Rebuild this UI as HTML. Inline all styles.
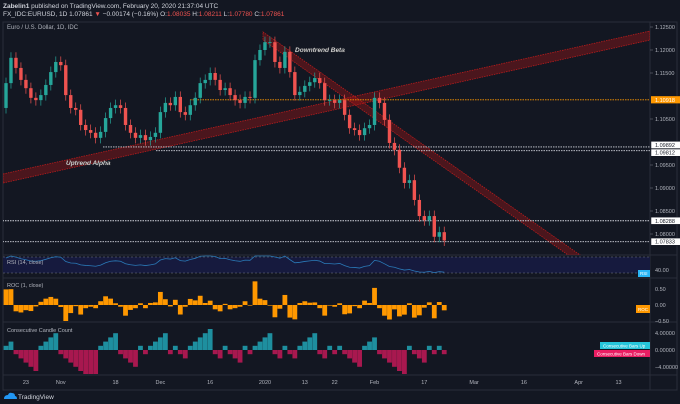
<!DOCTYPE html>
<html><head><meta charset="utf-8"><style>
html,body{margin:0;padding:0;background:#131722;width:680px;height:404px;overflow:hidden;font-family:"Liberation Sans",sans-serif}
svg{display:block}
</style></head><body>
<svg id="c" width="680" height="404" xmlns="http://www.w3.org/2000/svg"></svg>
<script>
// ---- data ----
const firstOpen = 1.1074;
const closes = [1.1128,1.1183,1.1161,1.1135,1.1117,1.1096,1.1091,1.1102,1.1124,1.1152,1.1174,1.1167,1.1102,1.1074,1.1070,1.1037,1.1026,1.1020,1.1009,1.1022,1.1052,1.1074,1.1080,1.1074,1.1037,1.1020,1.1009,1.1015,1.1004,1.1011,1.1020,1.1065,1.1085,1.1080,1.1098,1.1065,1.1059,1.1080,1.1096,1.1128,1.1135,1.1150,1.1135,1.1113,1.1117,1.1102,1.1091,1.1085,1.1098,1.1096,1.1178,1.1200,1.1217,1.1217,1.1174,1.1161,1.1196,1.1152,1.1102,1.1109,1.1122,1.1130,1.1139,1.1128,1.1091,1.1091,1.1085,1.1091,1.1059,1.1030,1.1026,1.1015,1.1030,1.1037,1.1096,1.1085,1.1048,1.0998,1.0983,1.0944,1.0911,1.0917,1.0874,1.0839,1.0830,1.0839,1.0794,1.0804,1.0786];
const priceTicks = [1.125,1.12,1.115,1.105,1.095,1.09,1.085,1.08];
const levels = [1.10918,1.09892,1.09812,1.08288,1.07833];
const levelStart = [190,103,156,0,0];
const timeLabels = ["23","Nov","18","Dec","16","2020","13","22","Feb","17","Mar","16","Apr","13"];
const timeIdx = [4,11,22,31,41,52,60,66,74,84,94,104,115,123];

const NS="http://www.w3.org/2000/svg";
const svg=document.getElementById('c');
function el(t,a,p){const e=document.createElementNS(NS,t);for(const k in a)e.setAttribute(k,a[k]);(p||svg).appendChild(e);return e;}
function txt(x,y,s,a,p){const e=el('text',Object.assign({x:x,y:y,'font-size':6,fill:'#b2b5be'},a),p);e.textContent=s;return e;}
const X=i=>6+4.98*i;
const Y=p=>27+(1.125-p)*4600;
const GREEN='#26a69a',RED='#ef5350';

// frame
el('rect',{x:3,y:22,width:674,height:368,fill:'#131722',stroke:'#2a2e39'});
[255,278,322,375].forEach(y=>{const l=el('line',{x1:3,x2:677,y1:y,y2:y,stroke:'#2a2e39'});});
el('line',{x1:650,x2:650,y1:22,y2:390,stroke:'#2a2e39'});

// header
const h1=txt(3,8,'',{fill:'#d1d4dc','font-size':6.5});
h1.innerHTML='<tspan font-weight="bold">Zabelin1</tspan> published on TradingView.com, February 20, 2020 21:37:04 UTC';

const h2=txt(3,16,'',{fill:'#d1d4dc','font-size':6.5});
h2.innerHTML='FX_IDC:EURUSD, 1D 1.07861 <tspan fill="#ef5350">▼</tspan> −0.00174 (−0.16%) O:<tspan fill="#ef5350">1.08035</tspan> H:<tspan fill="#ef5350">1.08211</tspan> L:<tspan fill="#ef5350">1.07780</tspan> C:<tspan fill="#ef5350">1.07861</tspan>';

const tl=txt(7,29,'Euro / U.S. Dollar, 1D, IDC',{fill:'#b2b5be'});


// clip for main pane
const defs=el('defs',{});
const cp=el('clipPath',{id:'mc'},defs);el('rect',{x:3,y:22,width:647,height:233},cp);
const main=el('g',{'clip-path':'url(#mc)'});


// trend channels
const up=el('polygon',{points:'3,174 650,31 650,40 3,183',fill:'rgba(180,20,20,0.35)',stroke:'#b71c1c','stroke-dasharray':'1.5,1','stroke-width':0.8},main);

const dn=el('polygon',{points:'263,32 590,262 578,262 263,40',fill:'rgba(180,20,20,0.35)',stroke:'#b71c1c','stroke-dasharray':'1.5,1','stroke-width':0.8},main);


// horizontal levels
levels.forEach((v,k)=>{
  const y=Y(v);
  const l=el('line',{x1:levelStart[k],x2:650,y1:y,y2:y,stroke:k==0?'#ff9800':'#d1d4dc','stroke-dasharray':'1.5,1','stroke-width':0.9},main);
  
});

// candles
closes.forEach((c,i)=>{
  const o=i==0?firstOpen:closes[i-1];
  const col=c>=o?GREEN:RED;
  const x=X(i);
  const hi=Math.max(o,c)+0.0012, lo=Math.min(o,c)-0.0012;
  const g=el('g',{},main);
  
  el('line',{x1:x,x2:x,y1:Y(hi),y2:Y(lo),stroke:col,'stroke-width':0.7},g);
  const t=Y(Math.max(o,c)),b=Y(Math.min(o,c));
  el('rect',{x:x-1.7,y:t,width:3.4,height:Math.max(0.8,b-t),fill:col},g);
});

// annotations
const a1=txt(295,52,'Downtrend Beta',{fill:'#fff','font-size':6.5,'font-weight':'bold','font-style':'italic',stroke:'#555','stroke-width':0.3});

const a2=txt(66,165,'Uptrend Alpha',{fill:'#fff','font-size':6.5,'font-weight':'bold','font-style':'italic',stroke:'#555','stroke-width':0.3});


// price axis
priceTicks.forEach(p=>{const t=txt(655,Y(p)+2,p.toFixed(5),{'font-size':5.5});
 el('line',{x1:650,x2:653,y1:Y(p),y2:Y(p),stroke:'#787b86','stroke-width':0.5});});
const labelShift=[0,-2,2,0,0];
levels.forEach((v,k)=>{
  const y=Y(v)+labelShift[k];
  const r=el('rect',{x:651,y:y-3.6,width:30,height:7.2,fill:k==0?'#ff9800':'#fff',stroke:k==0?'none':'#131722','stroke-width':0.5});
  
  txt(655,y+2,v.toFixed(5),{'font-size':5.5,fill:k==0?'#fff':'#131722'});
});

// ---- RSI ----
const rsi=[];{let ag=0,al=0;for(let i=0;i<closes.length;i++){const p=i==0?firstOpen:closes[i-1];const d=closes[i]-p;const g=Math.max(d,0),l=Math.max(-d,0);if(i==0){ag=0.0012;al=0.0012;}ag=(ag*13+g)/14;al=(al*13+l)/14;rsi.push(100-100/(1+ag/(al||1e-9)));}}
const RY=v=>257+(70-v)*0.4;
el('rect',{x:3,y:257,width:647,height:16,fill:'#161a3e'});
[70,30].forEach(v=>el('line',{x1:3,x2:650,y1:RY(v),y2:RY(v),stroke:'#787b86','stroke-dasharray':'2,2','stroke-width':0.5}));
const rl=el('polyline',{points:rsi.map((v,i)=>X(i)+','+Math.max(256,Math.min(277,RY(v)-4))).join(' '),fill:'none',stroke:'#2a7ab8','stroke-width':0.8});

txt(7,264,'RSI (14, close)',{'font-size':5.5});
txt(655,272,'40.00',{'font-size':5.5});
el('rect',{x:638,y:270,width:12,height:7,fill:'#29b6f6'});txt(640,275,'RSI',{'font-size':4.5,fill:'#fff'});

// ---- ROC ----
const roc=closes.map((c,i)=>{const p=i==0?firstOpen:closes[i-1];return (c-p)/p*100;});
const OY=v=>305-v*32;
txt(7,287,'ROC (1, close)',{'font-size':5.5});
roc.forEach((v,i)=>{const y0=OY(0),y1=Math.max(280,Math.min(321,OY(v)));
 const b=el('rect',{x:X(i)-2.4,y:Math.min(y0,y1),width:4.8,height:Math.max(0.6,Math.abs(y1-y0)),fill:'#ff9800'});
 });
[[0.5,'0.50'],[0,'0.00'],[-0.5,'−0.50']].forEach(([v,s])=>txt(655,OY(v)+2,s,{'font-size':5.5}));
el('rect',{x:636,y:305,width:14,height:8,fill:'#ff9800'});txt(638,311,'ROC',{'font-size':4.5,fill:'#fff'});

// ---- Consecutive candle count ----
const cnt=[];{let s=0;closes.forEach((c,i)=>{const p=i==0?firstOpen:closes[i-1];if(c>=p)s=s>0?s+1:1;else s=s<0?s-1:-1;cnt.push(s);});}
const CY=v=>350-v*4.2;
txt(7,332,'Consecutive Candle Count',{'font-size':5.5});
cnt.forEach((v,i)=>{const y0=CY(0),y1=Math.max(324,Math.min(374,CY(v)));
 const b=el('rect',{x:X(i)-2.4,y:Math.min(y0,y1),width:4.8,height:Math.abs(y1-y0),fill:v>0?'#1e8f9f':'#a8184f'});
 });
[[4,'4.00000'],[0,'0.00000'],[-4,'−4.00000']].forEach(([v,s])=>txt(655,CY(v)+2,s,{'font-size':5.5}));
const lu=el('rect',{x:600,y:342,width:50,height:7,fill:'#26c6da'});
txt(603,347.5,'Consecutive Bars Up',{'font-size':4.5,fill:'#fff'});
const ld=el('rect',{x:594,y:350,width:56,height:7,fill:'#e91e63'});
txt(597,355.5,'Consecutive Bars Down',{'font-size':4.5,fill:'#fff'});

// ---- time axis ----
timeLabels.forEach((s,k)=>{const t=txt(X(timeIdx[k]),384,s,{'font-size':5.5,'text-anchor':'middle'});});

// footer
const logo=el('path',{d:'M4 399 q0 -4 4 -4 q1 -3 4 -2 q3 0 3 3 q2 0 2 3 z',fill:'#2196f3'});

const ft=txt(18,399,'TradingView',{'font-size':6.5,fill:'#d1d4dc'});
</script>
</body></html>
